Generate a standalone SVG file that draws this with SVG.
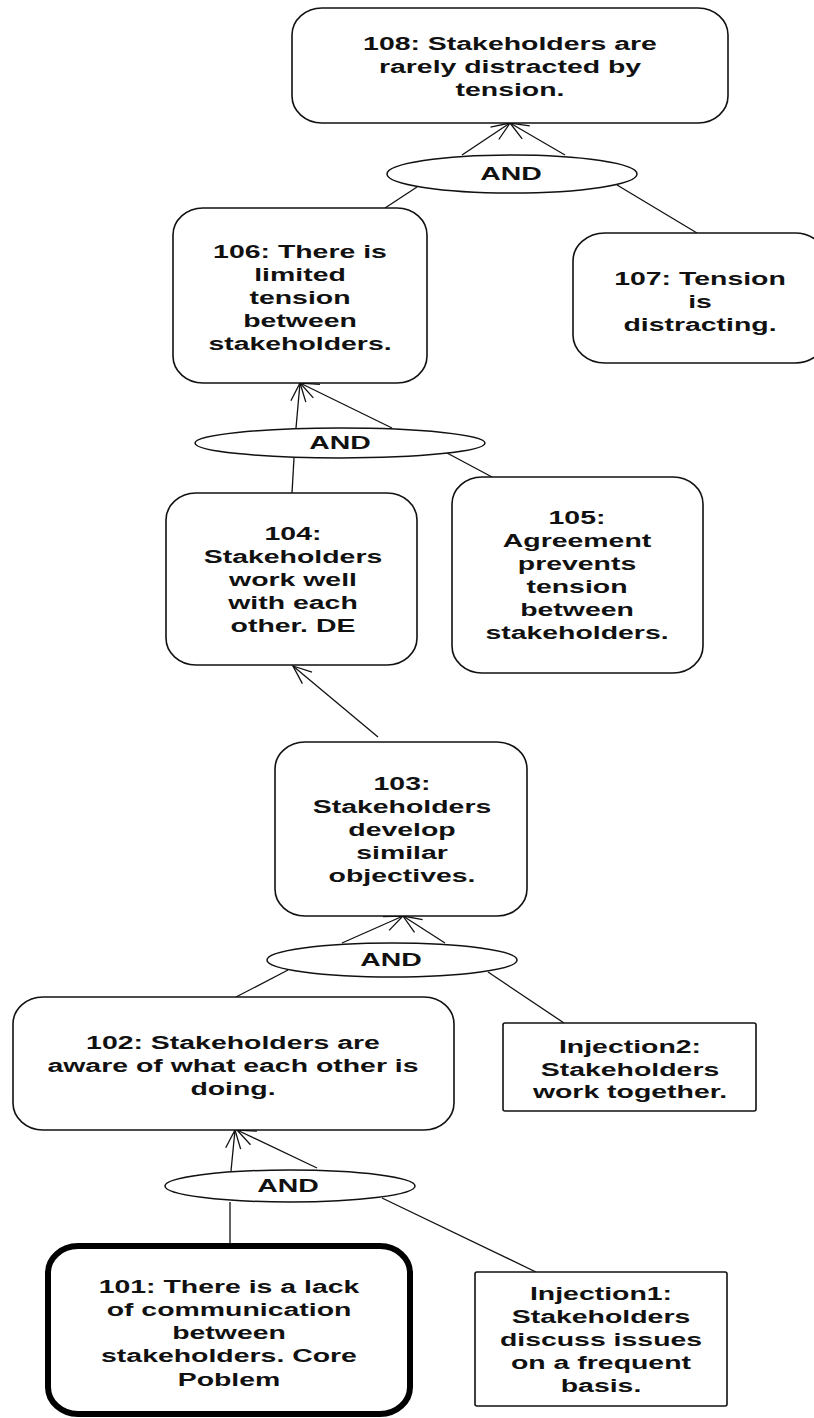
<svg xmlns="http://www.w3.org/2000/svg" width="814" height="1418" viewBox="0 0 814 1418">
<style>
.box{fill:#fff;stroke:#111;stroke-width:1.6}
.core{fill:#fff;stroke:#000;stroke-width:6}
.and{fill:#fff;stroke:#111;stroke-width:1.5}
.t{font-family:"Liberation Sans",Arial,sans-serif;font-weight:bold;font-size:18px;fill:#111;text-anchor:middle}
.c{fill:none;stroke:#111;stroke-width:1.3}
</style>
<defs>
<marker id="arr" markerUnits="userSpaceOnUse" viewBox="-20 -9 22 18" markerWidth="22" markerHeight="18" refX="0" refY="0" orient="auto">
<path d="M-18.5,-7.5 L0,0 L-18.5,7.5" fill="none" stroke="#111" stroke-width="1.3"/>
</marker>
</defs>
<rect width="814" height="1418" fill="#fff"/>

<g id="connectors">
<path class="c" d="M462,155 L510,123" marker-end="url(#arr)"/>
<path class="c" d="M565,155 L510,123" marker-end="url(#arr)"/>
<path class="c" d="M417,187 L385,208"/>
<path class="c" d="M617,185 L697,233"/>
<path class="c" d="M296,428 L300,383" marker-end="url(#arr)"/>
<path class="c" d="M392,428 L300,383" marker-end="url(#arr)"/>
<path class="c" d="M294,458 L292,493"/>
<path class="c" d="M447,453 L492,477"/>
<path class="c" d="M378,737 L293,666" marker-end="url(#arr)"/>
<path class="c" d="M342,943 L403,916" marker-end="url(#arr)"/>
<path class="c" d="M445,943 L403,916" marker-end="url(#arr)"/>
<path class="c" d="M288,970 L236,997"/>
<path class="c" d="M488,972 L564,1023"/>
<path class="c" d="M231,1171 L235,1130" marker-end="url(#arr)"/>
<path class="c" d="M317,1168 L237,1130" marker-end="url(#arr)"/>
<path class="c" d="M230,1202 L230,1243"/>
<path class="c" d="M382,1198 L536,1272"/>
</g>

<g id="n108">
<rect class="box" x="292" y="8" width="436" height="115" rx="30" ry="27"/>
<g transform="translate(510 0) scale(1.58 1)">
<text class="t" y="50">108: Stakeholders are</text>
<text class="t" y="73">rarely distracted by</text>
<text class="t" y="96">tension.</text>
</g>
</g>

<g id="and1">
<ellipse class="and" cx="512" cy="174" rx="125" ry="19"/>
<g transform="translate(511 0) scale(1.58 1)"><text class="t" y="180">AND</text></g>
</g>

<g id="n106">
<rect class="box" x="173" y="208" width="254" height="175" rx="30" ry="27"/>
<g transform="translate(300 0) scale(1.58 1)">
<text class="t" y="258">106: There is</text>
<text class="t" y="281">limited</text>
<text class="t" y="304">tension</text>
<text class="t" y="327">between</text>
<text class="t" y="350">stakeholders.</text>
</g>
</g>

<g id="n107">
<rect class="box" x="573" y="233" width="254" height="130" rx="32" ry="28"/>
<g transform="translate(700 0) scale(1.58 1)">
<text class="t" y="285">107: Tension</text>
<text class="t" y="308">is</text>
<text class="t" y="331">distracting.</text>
</g>
</g>

<g id="and2">
<ellipse class="and" cx="340" cy="443" rx="145" ry="15"/>
<g transform="translate(340 0) scale(1.58 1)"><text class="t" y="449.5">AND</text></g>
</g>

<g id="n104">
<rect class="box" x="166" y="493" width="251" height="172" rx="30" ry="27"/>
<g transform="translate(293 0) scale(1.58 1)">
<text class="t" y="540">104:</text>
<text class="t" y="563">Stakeholders</text>
<text class="t" y="586">work well</text>
<text class="t" y="609">with each</text>
<text class="t" y="632">other. DE</text>
</g>
</g>

<g id="n105">
<rect class="box" x="452" y="477" width="251" height="196" rx="30" ry="27"/>
<g transform="translate(577 0) scale(1.58 1)">
<text class="t" y="524">105:</text>
<text class="t" y="547">Agreement</text>
<text class="t" y="570">prevents</text>
<text class="t" y="593">tension</text>
<text class="t" y="616">between</text>
<text class="t" y="639">stakeholders.</text>
</g>
</g>

<g id="n103">
<rect class="box" x="275" y="742" width="252" height="174" rx="30" ry="27"/>
<g transform="translate(402 0) scale(1.58 1)">
<text class="t" y="790">103:</text>
<text class="t" y="813">Stakeholders</text>
<text class="t" y="836">develop</text>
<text class="t" y="859">similar</text>
<text class="t" y="882">objectives.</text>
</g>
</g>

<g id="and3">
<ellipse class="and" cx="392" cy="960" rx="125" ry="17"/>
<g transform="translate(391 0) scale(1.58 1)"><text class="t" y="966.5">AND</text></g>
</g>

<g id="n102">
<rect class="box" x="13" y="997" width="441" height="133" rx="30" ry="27"/>
<g transform="translate(233 0) scale(1.58 1)">
<text class="t" y="1049">102: Stakeholders are</text>
<text class="t" y="1072">aware of what each other is</text>
<text class="t" y="1095">doing.</text>
</g>
</g>

<g id="inj2">
<rect class="box" x="503" y="1023" width="253" height="88" rx="2"/>
<g transform="translate(630 0) scale(1.58 1)">
<text class="t" y="1053">Injection2:</text>
<text class="t" y="1076">Stakeholders</text>
<text class="t" y="1098">work together.</text>
</g>
</g>

<g id="and4">
<ellipse class="and" cx="290" cy="1186" rx="125" ry="16"/>
<g transform="translate(288 0) scale(1.58 1)"><text class="t" y="1192.5">AND</text></g>
</g>

<g id="n101">
<rect class="core" x="48" y="1246" width="362" height="168" rx="30" ry="27"/>
<g transform="translate(229 0) scale(1.58 1)">
<text class="t" y="1293">101: There is a lack</text>
<text class="t" y="1316">of communication</text>
<text class="t" y="1339">between</text>
<text class="t" y="1362">stakeholders. Core</text>
<text class="t" y="1386">Poblem</text>
</g>
</g>

<g id="inj1">
<rect class="box" x="475" y="1272" width="252" height="134" rx="2"/>
<g transform="translate(601 0) scale(1.58 1)">
<text class="t" y="1300">Injection1:</text>
<text class="t" y="1323">Stakeholders</text>
<text class="t" y="1346">discuss issues</text>
<text class="t" y="1369">on a frequent</text>
<text class="t" y="1392">basis.</text>
</g>
</g>
</svg>
